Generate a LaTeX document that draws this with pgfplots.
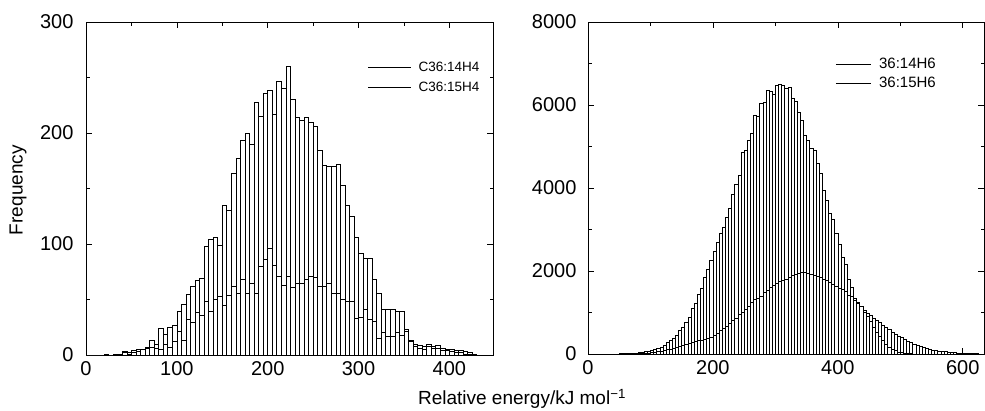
\documentclass[border=0pt]{standalone}
\usepackage{fontspec}
\setmainfont{Liberation Sans}
\usepackage{pgfplots}
\usepackage{pgfplotstable}
\pgfplotsset{compat=1.18}

% left plot: C36:14H4 (tall) and C36:15H4 (short); x = left edge of 5-unit bin
\pgfplotstableread{
x y
0 0
5 0
10 0
15 0
20 1
25 0
30 1
35 1
40 3
45 2
50 4
55 5
60 5
65 7
70 13
75 10
80 24
85 19
90 25
95 27
100 39
105 46
110 55
115 62
120 67
125 69
130 98
135 104
140 106
145 99
150 135
155 130
160 164
165 177
170 193
175 200
180 190
185 228
190 215
195 236
200 238
205 217
210 247
215 240
220 260
225 230
230 214
235 211
240 214
245 210
250 206
255 184
260 171
265 170
270 170
275 172
280 153
285 135
290 125
295 106
300 92
305 87
310 87
315 68
320 56
325 41
330 41
335 41
340 39
345 39
350 23
355 13
360 10
365 9
370 8
375 10
380 8
385 9
390 6
395 5
400 5
405 4
410 4
415 3
420 2
425 1
}\leftA

\pgfplotstableread{
x y
35 1
40 2
45 1
50 2
55 3
60 5
65 6
70 7
75 6
80 5
85 10
90 7
95 12
100 21
105 13
110 32
115 29
120 38
125 36
130 48
135 39
140 50
145 53
150 45
155 54
160 62
165 56
170 68
175 56
180 65
185 56
190 80
195 86
200 96
205 81
210 71
215 63
220 71
225 61
230 65
235 65
240 68
245 71
250 70
255 62
260 62
265 65
270 56
275 56
280 50
285 48
290 48
295 33
300 34
305 41
310 32
315 30
320 15
325 20
330 17
335 17
340 20
345 18
350 21
355 12
360 8
365 6
370 5
375 8
380 6
385 6
390 4
395 4
400 3
405 2
410 2
415 1
420 1
}\leftB

% right plot: 36:14H6 (tall) and 36:15H6 (short)
\pgfplotstableread{
x y
50 5
55 5
60 10
65 15
70 20
75 25
80 35
85 45
90 55
95 60
100 80
105 110
110 140
115 170
120 220
125 270
130 330
135 380
140 460
145 560
150 640
155 760
160 880
165 1100
170 1220
175 1450
180 1580
185 1850
190 2030
195 2250
200 2480
205 2700
210 2900
215 3050
220 3300
225 3500
230 3850
235 4100
240 4300
245 4850
250 4900
255 5150
260 5320
265 5760
270 5720
275 6040
280 6060
285 6360
290 6320
295 6250
300 6480
305 6490
310 6480
315 6400
320 6420
325 6160
330 6080
335 5820
340 5620
345 5280
350 5150
355 4950
360 4900
365 4600
370 4350
375 3950
380 3700
385 3380
390 3250
395 2900
400 2650
405 2320
410 2150
415 1800
420 1600
425 1350
430 1250
435 1150
440 1050
445 980
450 920
455 860
460 800
465 760
470 700
475 640
480 590
485 530
490 480
495 430
500 390
505 350
510 310
515 270
520 240
525 210
530 180
535 155
540 135
545 115
550 100
555 88
560 75
565 65
570 55
575 47
580 40
585 34
590 28
595 24
600 20
605 16
610 12
615 9
620 6
625 4
630 2
}\rightA

\pgfplotstableread{
x y
60 2
65 3
70 4
75 5
80 8
85 10
90 15
95 20
100 30
105 45
110 60
115 75
120 90
125 105
130 120
135 140
140 160
145 185
150 210
155 230
160 260
165 280
170 300
175 320
180 340
185 360
190 380
195 400
200 440
205 500
210 560
215 620
220 670
225 730
230 800
235 870
240 950
245 1000
250 1080
255 1150
260 1250
265 1310
270 1330
275 1400
280 1480
285 1540
290 1600
295 1650
300 1700
305 1740
310 1780
315 1810
320 1850
325 1900
330 1930
335 1950
340 1960
345 1960
350 1950
355 1920
360 1900
365 1880
370 1850
375 1800
380 1780
385 1720
390 1680
395 1620
400 1590
405 1560
410 1500
415 1420
420 1380
425 1300
430 1220
435 1140
440 1000
445 900
450 780
455 650
460 530
465 420
470 320
475 240
480 170
485 120
490 80
495 50
500 30
505 18
510 10
515 6
520 3
525 2
}\rightB

\pgfplotsset{
  histA/.style={ybar, bar width=5, bar shift=0pt, draw=black, fill=white, line width=0.65pt, forget plot},
  histB/.style={ybar, bar width=5, bar shift=0pt, draw=black, fill=none, line width=0.65pt, forget plot},
  myaxis/.style={
    scale only axis,
    axis line style={line width=0.7pt},
    tick align=inside,
    tick pos=both,
    major tick length=6pt,
    minor tick length=3.5pt,
    every tick/.style={black, line width=0.6pt},
    tick label style={font=\fontsize{20}{23}\selectfont},
    xticklabel style={yshift=-3pt},
    /pgf/number format/assume math mode=true,
    /pgf/number format/1000 sep={},
    ymin=0,
    legend cell align=left,
  },
  legline/.style={legend image code/.code={\draw[black, line width=0.6pt] (0pt,0pt) -- (43pt,0pt);}},
  leglineB/.style={legend image code/.code={\draw[black, line width=0.6pt] (0pt,0pt) -- (35pt,0pt);}},
}

\begin{document}
\begin{tikzpicture}
\path[use as bounding box] (0pt,0pt) rectangle (985pt,410pt);

\begin{axis}[myaxis,
  at={(86pt,55pt)}, anchor=south west,
  width=407pt, height=333pt,
  xmin=0, xmax=448, ymax=300,
  xtick={0,100,200,300,400}, minor xtick={50,150,250,350},
  ytick={0,100,200,300}, minor ytick={50,150,250},
  yticklabel style={xshift=-9pt},
  ylabel={Frequency},
  ylabel style={font=\fontsize{19}{22}\selectfont, at={(axis description cs:-0.167,0.495)}, anchor=center},
  legend style={draw=none, fill=none, at={(axis description cs:0.69,0.89)}, anchor=north west,
    font=\fontsize{13.5}{16}\selectfont, row sep=5pt, column sep=5pt, inner sep=1pt},
]
\addplot[histA] table[x expr=\thisrow{x}+2.5, y=y] {\leftA};
\addplot[histB] table[x expr=\thisrow{x}+2.5, y=y] {\leftB};
\addlegendimage{legline}
\addlegendentry{C36:14H4}
\addlegendimage{legline}
\addlegendentry{C36:15H4}
\end{axis}

\begin{axis}[myaxis,
  at={(588pt,56pt)}, anchor=south west,
  width=396pt, height=332pt,
  xmin=0, xmax=634, ymax=8000,
  xtick={0,200,400,600}, minor xtick={100,300,500},
  ytick={0,2000,4000,6000,8000}, minor ytick={1000,3000,5000,7000},
  yticklabel style={xshift=-8pt},
  legend style={draw=none, fill=none, at={(axis description cs:0.622,0.9)}, anchor=north west,
    font=\fontsize{15}{17}\selectfont, row sep=3pt, column sep=6pt, inner sep=1pt},
]
\addplot[histA] table[x expr=\thisrow{x}+2.5, y=y] {\rightA};
\addplot[histB] table[x expr=\thisrow{x}+2.5, y=y] {\rightB};
\addlegendimage{leglineB}
\addlegendentry{36:14H6}
\addlegendimage{leglineB}
\addlegendentry{36:15H6}
\end{axis}

\node[font=\fontsize{19}{22}\selectfont] at (522pt,11pt) {Relative energy/kJ mol\textsuperscript{−1}};
\end{tikzpicture}
\end{document}
